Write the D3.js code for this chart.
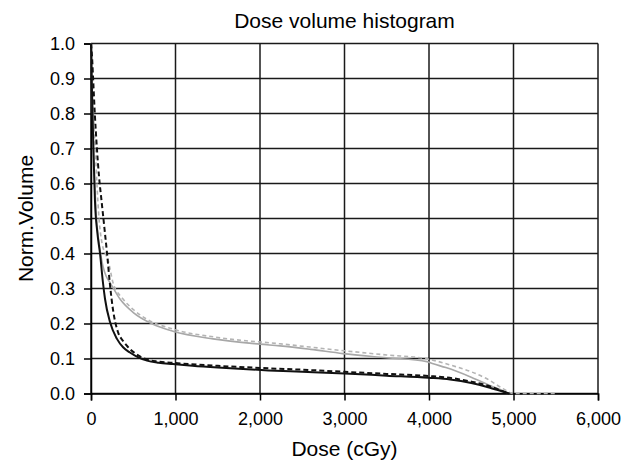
<!DOCTYPE html>
<html>
<head>
<meta charset="utf-8">
<script src="https://cdn.jsdelivr.net/npm/d3@7"></script>
<style>
  html, body { margin: 0; padding: 0; background: #fff; }
  svg { display: block; font-family: "Liberation Sans", Arial, sans-serif; }
</style>
</head>
<body>
<svg id="chart" width="627" height="461"></svg>
<script>
// ---- Data ----
const chartTitle = "Dose volume histogram";
const xAxisTitle = "Dose (cGy)";
const yAxisTitle = "Norm.Volume";
const xTicks = [0, 1000, 2000, 3000, 4000, 5000, 6000];
const yTicks = [0, 0.1, 0.2, 0.3, 0.4, 0.5, 0.6, 0.7, 0.8, 0.9, 1.0];

// [dose cGy, normalized volume]
const blackSolid = [
  [0, 1.0], [8, 0.9], [18, 0.8], [28, 0.7], [38, 0.62], [47, 0.55], [75, 0.46], [107, 0.40],
  [140, 0.32], [166, 0.27], [225, 0.204], [307, 0.156], [380, 0.132], [461, 0.117],
  [560, 0.103], [663, 0.094], [800, 0.088], [970, 0.084], [1200, 0.079], [1500, 0.074],
  [1800, 0.070], [2100, 0.066], [2500, 0.062], [3000, 0.057], [3500, 0.051], [4000, 0.045],
  [4250, 0.040], [4500, 0.030], [4700, 0.018], [4880, 0.005], [4950, 0]
];
const blackDashed = [
  [0, 1.0], [15, 0.95], [25, 0.9], [45, 0.8], [70, 0.7], [95, 0.62], [125, 0.55],
  [160, 0.47], [190, 0.40], [225, 0.31], [260, 0.24], [320, 0.175], [380, 0.15],
  [430, 0.135], [520, 0.115], [663, 0.097], [800, 0.091], [1000, 0.087], [1500, 0.079],
  [2000, 0.073], [2500, 0.068], [3000, 0.062], [3500, 0.056], [4000, 0.050], [4300, 0.043],
  [4500, 0.034], [4700, 0.022], [4880, 0.006], [4950, 0]
];
const graySolid = [
  [0, 1.0], [10, 0.9], [20, 0.8], [30, 0.7], [45, 0.6], [65, 0.5], [90, 0.44], [120, 0.39],
  [142, 0.363], [180, 0.335], [225, 0.317], [343, 0.27], [497, 0.232], [734, 0.198],
  [970, 0.178], [1444, 0.156], [2000, 0.141], [2237, 0.136], [2600, 0.126], [2982, 0.114],
  [3500, 0.102], [3976, 0.091], [4050, 0.085], [4200, 0.074], [4485, 0.048], [4700, 0.025],
  [4876, 0.008], [4950, 0]
];
const grayDashed = [
  [0, 1.0], [15, 0.9], [30, 0.8], [50, 0.7], [70, 0.6], [95, 0.5], [130, 0.43], [170, 0.40],
  [201, 0.382], [260, 0.317], [379, 0.27], [500, 0.24], [663, 0.212], [970, 0.184],
  [1500, 0.160], [2237, 0.142], [3000, 0.122], [3500, 0.110], [3976, 0.099], [4284, 0.079],
  [4500, 0.062], [4686, 0.042], [4876, 0.014], [5000, 0], [5500, 0]
];

const seriesList = [
  { data: graySolid,   color: "#a8a8a8", width: 1.6, dash: null },
  { data: grayDashed,  color: "#b4b4b4", width: 1.6, dash: "4,3" },
  { data: blackSolid,  color: "#111111", width: 2.0, dash: null },
  { data: blackDashed, color: "#111111", width: 2.0, dash: "5,3" }
];

// ---- Layout ----
const W = 627, H = 461;
const margin = { left: 91, right: 29, top: 43.5, bottom: 67.5 };
const iw = W - margin.left - margin.right;
const ih = H - margin.top - margin.bottom;

const svg = d3.select("#chart");
const g = svg.append("g").attr("transform", `translate(${margin.left},${margin.top})`);

const x = d3.scaleLinear().domain([0, 6000]).range([0, iw]);
const y = d3.scaleLinear().domain([0, 1]).range([ih, 0]);

// gridlines
g.append("g").selectAll("line.h").data(yTicks).join("line")
  .attr("x1", 0).attr("x2", iw)
  .attr("y1", d => y(d)).attr("y2", d => y(d))
  .attr("stroke", "#1a1a1a").attr("stroke-width", 1.5);
g.append("g").selectAll("line.v").data(xTicks).join("line")
  .attr("x1", d => x(d)).attr("x2", d => x(d))
  .attr("y1", 0).attr("y2", ih)
  .attr("stroke", "#1a1a1a").attr("stroke-width", 1.5);

// axes
const xAxis = d3.axisBottom(x).tickValues(xTicks).tickSize(7).tickPadding(12)
  .tickFormat(d3.format(","));
const yAxis = d3.axisLeft(y).tickValues(yTicks).tickSize(7).tickPadding(9)
  .tickFormat(d3.format(".1f"));

const gx = g.append("g").attr("transform", `translate(0,${ih})`).call(xAxis);
const gy = g.append("g").call(yAxis);
[gx, gy].forEach(a => {
  a.select(".domain").attr("stroke", "#000").attr("stroke-width", 1.5);
  a.selectAll(".tick line").attr("stroke", "#000").attr("stroke-width", 1.5);
  a.selectAll(".tick text").attr("fill", "#000")
    .style("font-size", "18px").style("font-family", '"Liberation Sans", Arial, sans-serif');
});

// curves
const line = d3.line()
  .x(d => x(d[0])).y(d => y(d[1]))
  .curve(d3.curveMonotoneX);

g.append("g").selectAll("path.s").data(seriesList).join("path")
  .attr("d", d => line(d.data))
  .attr("fill", "none")
  .attr("stroke", d => d.color)
  .attr("stroke-width", d => d.width)
  .attr("stroke-dasharray", d => d.dash);

// titles
svg.append("text").attr("x", margin.left + iw / 2).attr("y", 28)
  .attr("text-anchor", "middle").style("font-size", "21px").attr("fill", "#000")
  .text(chartTitle);
svg.append("text").attr("x", margin.left + iw / 2).attr("y", 456)
  .attr("text-anchor", "middle").style("font-size", "21px").attr("fill", "#000")
  .text(xAxisTitle);
svg.append("text")
  .attr("transform", `translate(33,${margin.top + ih / 2}) rotate(-90)`)
  .attr("text-anchor", "middle").style("font-size", "21px").attr("fill", "#000")
  .text(yAxisTitle);
</script>
</body>
</html>
